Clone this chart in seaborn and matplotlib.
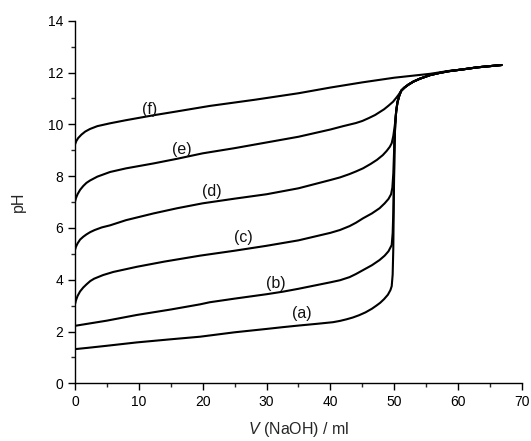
import matplotlib
matplotlib.use("Agg")
import matplotlib.pyplot as plt
import seaborn as sns
import pandas as pd
from matplotlib.ticker import MultipleLocator

# ---- data ----
tail_v = [50.3, 50.5, 50.8, 51.1, 51.6, 52.2, 53.0, 54.0, 55.6, 57.0, 58.5, 60.7, 63.0, 66.8]
tail_ph = [10.5, 10.85, 11.12, 11.3, 11.42, 11.53, 11.65, 11.76, 11.9, 11.98, 12.05, 12.12, 12.2, 12.29]

a_v = [0, 2, 5, 9.7, 15, 19.6, 25, 30, 32.6, 35, 38, 40.4, 41.5, 42.5, 43.5, 44.5, 45.5, 46.5,
       47.2, 47.8, 48.4, 49.0, 49.4, 49.6, 49.75, 49.85, 49.95, 50.05, 50.15]
a_ph = [1.32, 1.37, 1.45, 1.58, 1.7, 1.8, 1.97, 2.1, 2.17, 2.23, 2.3, 2.36, 2.41, 2.47, 2.54, 2.63, 2.74, 2.88,
        3.0, 3.11, 3.25, 3.42, 3.6, 3.75, 4.2, 5.2, 7.5, 9.3, 10.0]

b_v = [0, 5, 9.7, 15, 19.6, 21.1, 25, 30, 32.6, 35, 40, 41.5, 43, 44, 45.1, 46.5, 47.7, 48.5,
       49.1, 49.6, 49.75, 49.85, 49.95, 50.05, 50.15]
b_ph = [2.22, 2.42, 2.64, 2.85, 3.05, 3.13, 3.27, 3.44, 3.54, 3.65, 3.9, 3.98, 4.1, 4.22, 4.37, 4.56, 4.76, 4.93,
        5.1, 5.34, 5.8, 6.6, 7.9, 9.3, 10.0]

c_v = [0, 0.15, 0.4, 0.8, 1.3, 1.8, 2.4, 3, 4.4, 6, 9.7, 14, 19.6, 25, 30, 35, 40, 41.5, 43, 44,
       45.1, 46.5, 47.7, 48.5, 49.1, 49.5, 49.7, 49.85, 49.95, 50.05, 50.15]
c_ph = [3.05, 3.2, 3.37, 3.55, 3.7, 3.82, 3.95, 4.04, 4.18, 4.3, 4.5, 4.7, 4.93, 5.12, 5.31, 5.52, 5.81, 5.92, 6.07, 6.2,
        6.37, 6.56, 6.76, 6.95, 7.12, 7.3, 7.55, 8.1, 8.8, 9.5, 10.0]

d_v = [0, 0.15, 0.4, 0.8, 1.3, 1.8, 2.4, 3.1, 4.2, 5.5, 8, 12.3, 16, 20, 25, 30, 35, 40, 41.5, 43, 44,
       45.1, 46.3, 47.3, 48.2, 48.8, 49.3, 49.6, 49.85, 50.05, 50.15]
d_ph = [5.15, 5.27, 5.4, 5.55, 5.66, 5.75, 5.84, 5.92, 6.02, 6.1, 6.3, 6.56, 6.76, 6.95, 7.13, 7.3, 7.53, 7.85, 7.95, 8.08, 8.18,
        8.3, 8.47, 8.63, 8.81, 8.97, 9.13, 9.27, 9.55, 9.9, 10.1]

e_v = [0, 0.15, 0.4, 0.8, 1.3, 1.8, 2.35, 3.5, 5.5, 8, 12.3, 16, 20, 25, 30, 35, 40, 42, 44, 45, 46, 47,
       47.7, 48.4, 49.1, 49.8, 50.3, 50.7]
e_ph = [7.01, 7.15, 7.3, 7.47, 7.62, 7.74, 7.83, 7.98, 8.16, 8.3, 8.49, 8.67, 8.88, 9.08, 9.3, 9.52, 9.8, 9.93, 10.05, 10.13, 10.24, 10.36,
        10.47, 10.58, 10.72, 10.87, 11.02, 11.15]

f_v = [0, 0.2, 0.5, 1, 1.6, 2.35, 3.5, 5.5, 8, 12.3, 16, 21.1, 28.2, 35, 40, 45, 50, 55.6, 58.5]
f_ph = [9.22, 9.35, 9.47, 9.6, 9.72, 9.82, 9.93, 10.04, 10.16, 10.35, 10.5, 10.71, 10.95, 11.2, 11.42, 11.62, 11.8, 11.95, 12.06]

curve_names = ["(a)", "(b)", "(c)", "(d)", "(e)", "(f)"]
label_v = [35.6, 31.5, 26.4, 21.5, 16.8, 11.7]
label_ph = [2.7, 3.86, 5.62, 7.4, 9.03, 10.58]

x_ticks = [0, 10, 20, 30, 40, 50, 60, 70]
y_ticks = [0, 2, 4, 6, 8, 10, 12, 14]

# ---- assemble ----
rows = []
def add(name, v, ph):
    for xv, yv in zip(v, ph):
        rows.append({"V": xv, "pH": yv, "curve": name})

add("(a)", a_v + tail_v, a_ph + tail_ph)
add("(b)", b_v + tail_v, b_ph + tail_ph)
add("(c)", c_v + tail_v, c_ph + tail_ph)
add("(d)", d_v + tail_v, d_ph + tail_ph)
add("(e)", e_v + tail_v[3:], e_ph + tail_ph[3:])
add("(f)", f_v + tail_v[11:], f_ph + tail_ph[11:])
df = pd.DataFrame(rows)

sns.set_style("ticks")
plt.rcParams["font.family"] = ["Liberation Sans", "DejaVu Sans"]
plt.rcParams["mathtext.fontset"] = "custom"
plt.rcParams["mathtext.it"] = "Liberation Sans:italic"
plt.rcParams["mathtext.rm"] = "Liberation Sans"

fig = plt.figure(figsize=(5.31, 4.41), dpi=100)
ax = fig.add_axes([0.1412, 0.1308, 0.8418, 0.8222])

sns.lineplot(data=df, x="V", y="pH", units="curve", estimator=None, sort=False,
             color="black", lw=1.5, ax=ax, legend=False)

for name, xv, yv in zip(curve_names, label_v, label_ph):
    ax.text(xv, yv, name, ha="center", va="center", fontsize=11.5, color="#111111")

ax.set_xlim(0, 70)
ax.set_ylim(0, 14)
ax.set_xticks(x_ticks)
ax.set_yticks(y_ticks)
ax.xaxis.set_minor_locator(MultipleLocator(5))
ax.yaxis.set_minor_locator(MultipleLocator(1))
ax.tick_params(axis="both", which="major", direction="out", length=5, width=1,
               labelsize=10, colors="black")
ax.tick_params(axis="both", which="minor", direction="out", length=3, width=1)
for s in ["left", "bottom"]:
    ax.spines[s].set_color("black")
    ax.spines[s].set_linewidth(1)
sns.despine(ax=ax)

ax.set_xlabel(r"$\mathit{V}$ (NaOH) / ml", fontsize=11.5, labelpad=8)
ax.set_ylabel("pH", fontsize=11.5, labelpad=16)

fig.savefig("out.png", dpi=100)
